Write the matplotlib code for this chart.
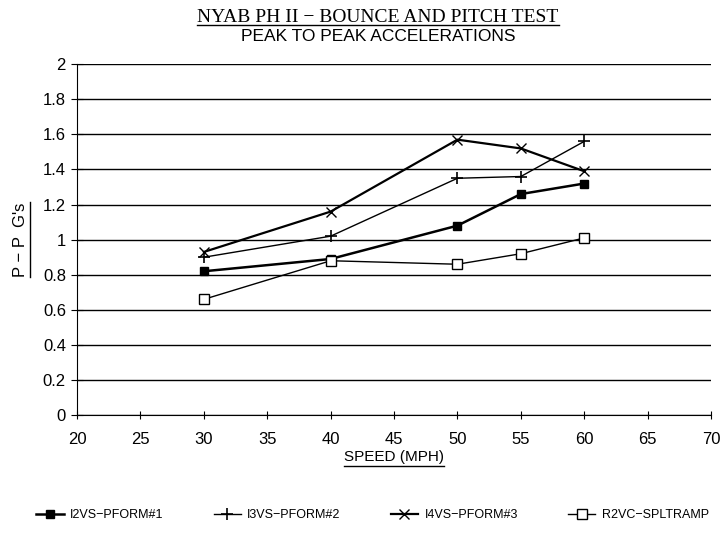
"""
NYAB PH II bounce and pitch test - peak to peak accelerations.
"""

import matplotlib
matplotlib.use("Agg")

import matplotlib.pyplot as plt
from matplotlib.lines import Line2D

speed = [30, 40, 50, 55, 60]
i2vs_pform1 = [0.82, 0.89, 1.08, 1.26, 1.32]
i3vs_pform2 = [0.90, 1.02, 1.35, 1.36, 1.56]
i4vs_pform3 = [0.93, 1.16, 1.57, 1.52, 1.39]
r2vc_spltramp = [0.66, 0.88, 0.86, 0.92, 1.01]

labels = ["I2VS\u2212PFORM#1", "I3VS\u2212PFORM#2", "I4VS\u2212PFORM#3", "R2VC\u2212SPLTRAMP"]
x_ticks = [20, 25, 30, 35, 40, 45, 50, 55, 60, 65, 70]
y_ticks = [0, 0.2, 0.4, 0.6, 0.8, 1, 1.2, 1.4, 1.6, 1.8, 2]

SANS = "Liberation Sans"
SERIF = "Liberation Serif"


def underline(fig, txt, pad=2, y_fig=None):
    fig.canvas.draw()
    bb = txt.get_window_extent().transformed(fig.transFigure.inverted())
    if txt.get_rotation() == 90:
        x = bb.x1 + pad / fig.bbox.width
        fig.add_artist(Line2D([x, x], [bb.y0, bb.y1], color="black", lw=1, transform=fig.transFigure))
    else:
        y = y_fig if y_fig is not None else bb.y0 - pad / fig.bbox.height
        fig.add_artist(Line2D([bb.x0, bb.x1], [y, y], color="black", lw=1, transform=fig.transFigure))


def main():
    fig = plt.figure(figsize=(7.27, 5.35), dpi=100)
    ax = fig.add_axes([0.106, 0.224, 0.872, 0.656])

    ax.plot(speed, i2vs_pform1, color="black", lw=1.8, marker="s", ms=6, mfc="black", label=labels[0])
    ax.plot(speed, i3vs_pform2, color="black", lw=1.0, marker="+", ms=9, mew=1.2, label=labels[1])
    ax.plot(speed, i4vs_pform3, color="black", lw=1.6, marker="x", ms=7, mew=1.0, label=labels[2])
    ax.plot(speed, r2vc_spltramp, color="black", lw=1.0, marker="s", ms=7, mfc="white", mew=1.0, label=labels[3])

    ax.set_xlim(20, 70)
    ax.set_ylim(0, 2)
    ax.set_xticks(x_ticks)
    ax.set_yticks(y_ticks)
    ax.set_yticklabels([f"{v:g}" for v in y_ticks])
    ax.tick_params(axis="y", direction="inout", length=8, labelsize=12, pad=4)
    ax.tick_params(axis="x", direction="inout", length=6, labelsize=12, pad=9)
    for lab in ax.get_xticklabels() + ax.get_yticklabels():
        lab.set_fontfamily(SANS)

    ax.grid(axis="y", color="black", lw=1.0)
    ax.set_axisbelow(True)
    for side in ["top", "right"]:
        ax.spines[side].set_visible(False)

    xl = ax.set_xlabel("SPEED (MPH)", fontsize=11, fontfamily=SANS, labelpad=2)
    yl = ax.set_ylabel("P \u2212 P  G's", fontsize=12, fontfamily=SANS)
    ax.yaxis.set_label_coords(-0.078, 0.5)

    title = fig.text(0.52, 1 - 22 / 535, "NYAB PH II \u2212 BOUNCE AND PITCH TEST", ha="center", va="baseline",
                     fontsize=14, fontfamily=SERIF)
    fig.text(0.52, 1 - 29 / 535, "PEAK TO PEAK ACCELERATIONS", ha="center", va="top",
             fontsize=12.5, fontfamily=SANS)

    ax.legend(loc="center", bbox_to_anchor=(0.466, -0.285), ncol=4, frameon=False,
              prop={"family": SANS, "size": 9}, handlelength=2.2, columnspacing=4.0, handletextpad=0.5)

    underline(fig, title, y_fig=1 - 25 / 535)
    underline(fig, xl)
    underline(fig, yl)

    fig.savefig("out.png", dpi=100)


if __name__ == "__main__":
    main()
